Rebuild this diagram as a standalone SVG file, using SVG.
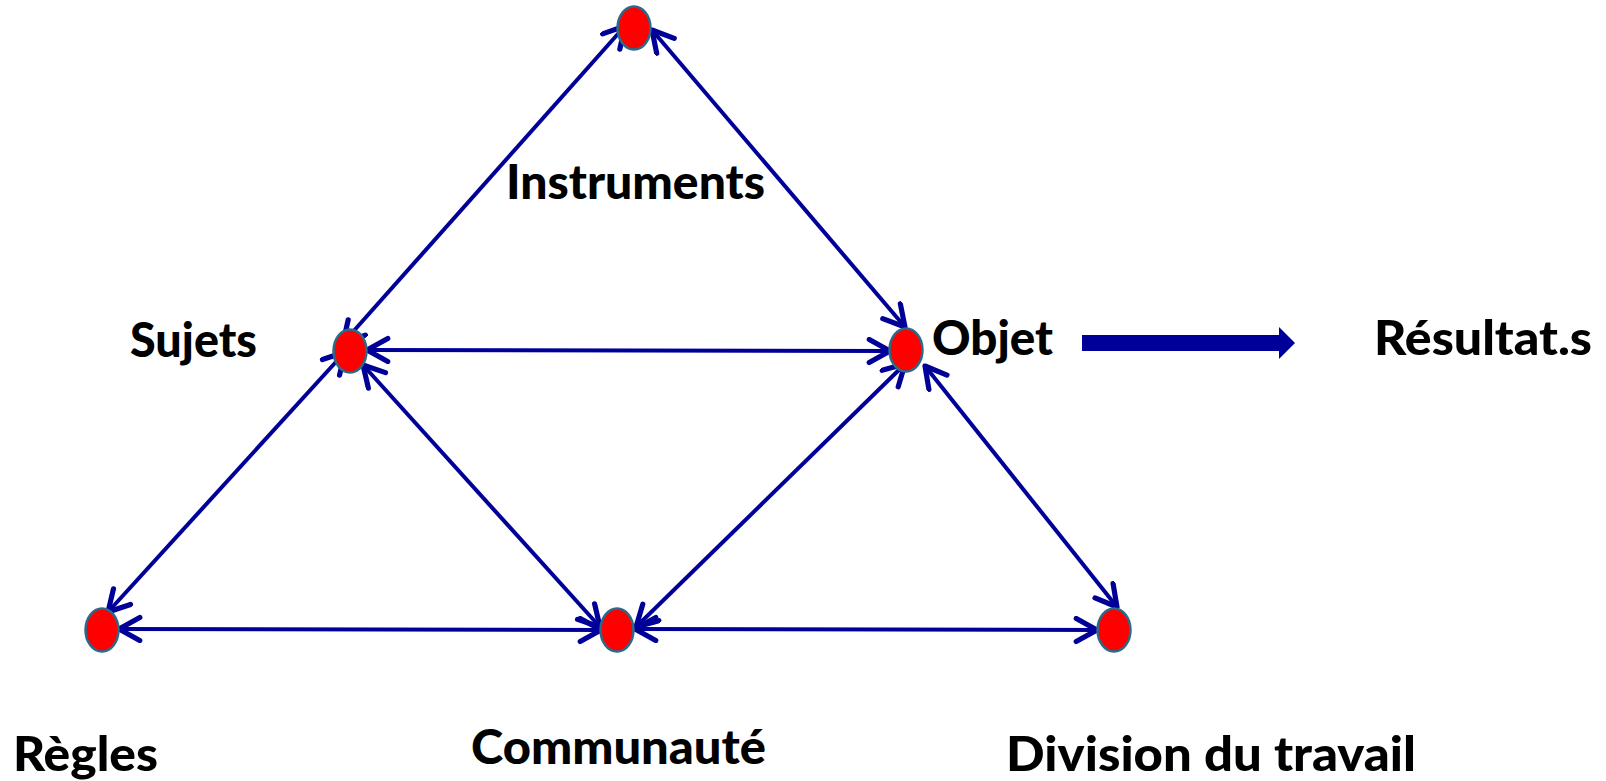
<svg xmlns="http://www.w3.org/2000/svg" width="1606" height="781" viewBox="0 0 1606 781">
<style>
.node{fill:#ff0000;stroke:#2a6a8a;stroke-width:2.5}
.conn{stroke:#000099;stroke-width:4;fill:none;marker-start:url(#open);marker-end:url(#open)}
.lbl{font-family:Lato,"Liberation Sans",sans-serif;font-weight:900;font-size:47px;fill:#000}
</style>
<defs>
<marker id="open" markerUnits="userSpaceOnUse" markerWidth="30" markerHeight="30" viewBox="-2 -2 26 26" refX="20" refY="10" orient="auto-start-reverse">
<path d="M2,0 L20,10 L2,20" fill="none" stroke="#000099" stroke-width="4.5" stroke-linecap="round" stroke-linejoin="round"/>
</marker>
</defs>
<rect width="1606" height="781" fill="#fff"/>
<g id="connectors">
<line class="conn" x1="625" y1="26" x2="343" y2="343"/>
<line class="conn" x1="652" y1="30" x2="905" y2="327"/>
<line class="conn" x1="367" y1="350" x2="890" y2="351"/>
<line class="conn" x1="345" y1="352" x2="108" y2="612"/>
<line class="conn" x1="363" y1="365" x2="600" y2="627"/>
<line class="conn" x1="905" y1="364" x2="636" y2="627"/>
<line class="conn" x1="925" y1="366" x2="1117" y2="607"/>
<line class="conn" x1="119" y1="629" x2="601" y2="630"/>
<line class="conn" x1="635" y1="629" x2="1097" y2="630"/>
<polygon points="1082,335 1279,335 1279,327 1295,343 1279,359 1279,351 1082,351" fill="#000099"/>
</g>
<g id="node-instruments">
<ellipse class="node" cx="634" cy="28" rx="16.5" ry="21.5"/>
<text class="lbl" x="506" y="199" textLength="259" lengthAdjust="spacingAndGlyphs">Instruments</text>
</g>
<g id="node-sujets">
<ellipse class="node" cx="350" cy="351" rx="16.5" ry="21.5"/>
<text class="lbl" x="130" y="357" textLength="127" lengthAdjust="spacingAndGlyphs">Sujets</text>
</g>
<g id="node-objet">
<ellipse class="node" cx="906" cy="350" rx="16.5" ry="21.5"/>
<text class="lbl" x="932" y="355" textLength="121" lengthAdjust="spacingAndGlyphs">Objet</text>
</g>
<g id="node-resultats">
<text class="lbl" x="1374" y="355" textLength="218" lengthAdjust="spacingAndGlyphs">Résultat.s</text>
</g>
<g id="node-regles">
<ellipse class="node" cx="102" cy="630" rx="16.5" ry="21.5"/>
<text class="lbl" x="13" y="771" textLength="145" lengthAdjust="spacingAndGlyphs">Règles</text>
</g>
<g id="node-communaute">
<ellipse class="node" cx="617" cy="630" rx="16.5" ry="21.5"/>
<text class="lbl" x="471" y="764" textLength="295" lengthAdjust="spacingAndGlyphs">Communauté</text>
</g>
<g id="node-division">
<ellipse class="node" cx="1114" cy="630" rx="16.5" ry="21.5"/>
<text class="lbl" x="1006" y="771" textLength="410" lengthAdjust="spacingAndGlyphs">Division du travail</text>
</g>
</svg>
